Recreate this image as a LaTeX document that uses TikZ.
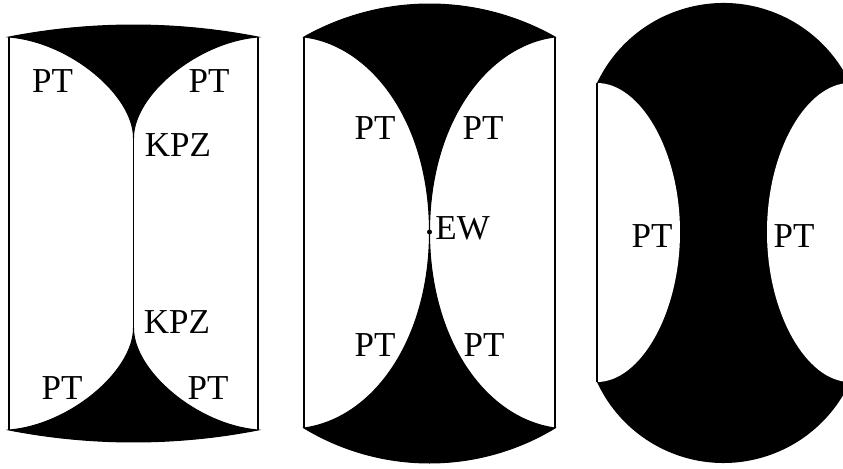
\documentclass[tikz,border=0pt]{standalone}
\usepackage{fontspec}
\setmainfont{Liberation Serif}
\usetikzlibrary{positioning}
\tikzset{
  every node/.style={font=\fontsize{17.5}{19}\selectfont, inner sep=0pt},
  wall/.style={line width=0.8pt},
  phase/.style={fill=black, draw=black, line width=0.5pt},
  hole/.style={fill=white},
}

\begin{document}
\begin{tikzpicture}[x=0.5pt, y=0.5pt]
    \clip (0,0) rectangle (843,468);
    % left panel
    \coordinate (a1) at (9,431);  \coordinate (b1) at (258,431);
    \coordinate (c1) at (9,38);   \coordinate (d1) at (258,38);
    \coordinate (k1) at (133.5,330); \coordinate (k2) at (133.5,140);
    \path[phase] (a1) arc[start angle=101.01, end angle=78.99, radius=651.8]
      .. controls (197,426) and (133.5,373) .. (k1)
      .. controls (133.5,373) and (70,426) .. (a1) -- cycle;
    \path[phase] (c1) arc[start angle=-101.01, end angle=-78.99, radius=651.8]
      .. controls (197,43) and (133.5,97) .. (k2)
      .. controls (133.5,97) and (70,43) .. (c1) -- cycle;
    \draw[wall] (a1) -- (c1) (b1) -- (d1) (k1) -- (k2);
    \node (pt1) at (52.5,387) {PT};
    \node (pt2) at (209,387) {PT};
    \node (kpz1) at (178,323) {KPZ};
    \node (kpz2) at (177,146) {KPZ};
    \node (pt3) at (62,80) {PT};
    \node (pt4) at (208,80) {PT};
    % middle panel
    \coordinate (a2) at (304,431); \coordinate (b2) at (555,431);
    \coordinate (c2) at (304,40);  \coordinate (d2) at (555,40);
    \coordinate (e) at (429.5,236);
    \path[phase] (a2) arc[start angle=119.47, end angle=60.53, radius=255.1]
      .. controls (489,423) and (429.5,348) .. (e)
      .. controls (429.5,348) and (370,423) .. (a2) -- cycle;
    \path[phase] (c2) arc[start angle=-121.17, end angle=-58.83, radius=242.5]
      .. controls (484,50) and (429.5,130) .. (e)
      .. controls (429.5,130) and (375,50) .. (c2) -- cycle;
    \draw[wall] (a2) -- (c2) (b2) -- (d2);
    \fill (e) circle[radius=2.5];
    \node (pt5) at (375,340) {PT};
    \node (pt6) at (483,340) {PT};
    \node (ew) [right=2.75pt of e, yshift=2pt] {EW};
    \node (pt7) at (375,123) {PT};
    \node (pt8) at (484,123) {PT};
    % right panel
    \coordinate (a3) at (597,385); \coordinate (b3) at (850,385);
    \coordinate (c3) at (597,86);  \coordinate (d3) at (850,86);
    \fill (a3) arc[start angle=154.63, end angle=25.37, radius=140]
      -- (d3) arc[start angle=-24.75, end angle=-155.25, radius=139.3] -- cycle;
    \path[hole] (a3) .. controls (640,385) and (680,318) .. (680,236)
      .. controls (680,154) and (640,86) .. (c3) -- cycle;
    \path[hole] (b3) .. controls (807,385) and (767,318) .. (767,236)
      .. controls (767,154) and (807,86) .. (d3) -- cycle;
    \draw[wall] (a3) -- (c3) (b3) -- (d3);
    \node (pt9) at (652,232) {PT};
    \node (pt10) at (794,232) {PT};
\end{tikzpicture}
\end{document}
